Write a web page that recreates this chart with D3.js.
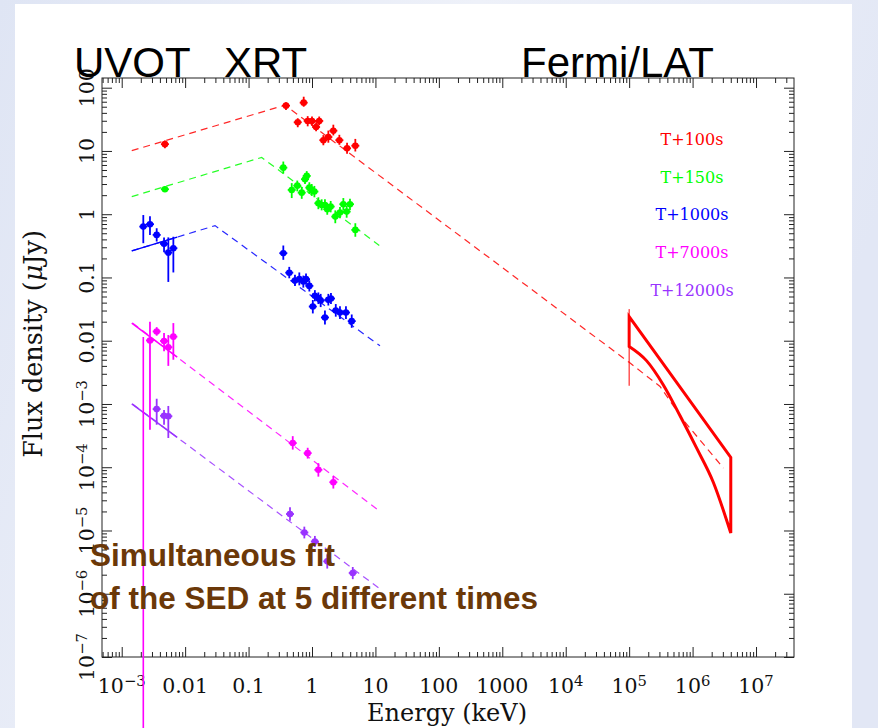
<!DOCTYPE html>
<html><head><meta charset="utf-8">
<script src="https://cdn.jsdelivr.net/npm/d3@7"></script>
<style>
html,body{margin:0;padding:0;background:#e3e8f5;overflow:hidden}
svg{display:block}
</style></head><body>
<svg id="c" width="878" height="728"></svg>
<script>
// ---------------- DATA ----------------
const xTickValues = [1e-3,1e-2,1e-1,1,10,100,1000,1e4,1e5,1e6,1e7];
const xTickLabels = ["10^−3","0.01","0.1","1","10","100","1000","10^4","10^5","10^6","10^7"];
const yTickValues = [1e-7,1e-6,1e-5,1e-4,1e-3,1e-2,1e-1,1,10,100];
const yTickLabels = ["10^−7","10^−6","10^−5","10^−4","10^−3","0.01","0.1","1","10","100"];
const seriesNames = ["T+100s","T+150s","T+1000s","T+7000s","T+12000s"];

// points: [E keV, F uJy, F low, F high]
const pointsT100 = [
  [4.8e-3,12.8,11.0,14.6],
  [0.389,52,44.5,58.8],[0.74,58,50,72],[0.596,28.4,23.7,32.9],[0.855,29.8,24.5,35.5],
  [1.0,29.8,25,35],[1.16,23.9,20.5,28.5],[1.30,29.8,25.5,35],[1.51,14.8,12.3,17.8],
  [1.81,16.6,13.5,21],[2.17,20.9,17.6,26],[2.70,14.8,12.5,18],[3.57,11.0,9.0,13.5],[4.82,12.1,9.8,15.5]
];
const pointsT150 = [
  [4.8e-3,2.48,2.25,2.75],
  [0.353,5.44,4.4,6.8],[0.776,3.57,3.0,4.3],[0.826,4.03,3.4,4.8],[0.479,2.42,1.8,3.1],
  [0.586,2.83,2.3,3.4],[0.689,2.19,1.75,2.7],[0.908,2.63,2.1,3.2],[0.99,2.42,1.95,3.0],
  [1.09,2.28,1.85,2.8],[1.26,1.49,1.2,1.85],[1.42,1.40,1.15,1.72],[1.60,1.40,1.15,1.72],
  [1.74,1.20,0.98,1.48],[1.97,1.32,1.07,1.62],[2.33,0.917,0.72,1.15],[2.76,1.06,0.86,1.3],
  [3.12,1.44,1.15,1.8],[3.52,1.10,0.88,1.36],[3.97,1.44,1.17,1.75],[4.82,0.565,0.44,0.72]
];
const pointsT1000 = [
  [2.19e-3,0.637,0.348,0.97],[2.79e-3,0.695,0.47,0.93],[3.56e-3,0.471,0.37,0.60],
  [4.65e-3,0.34,0.25,0.43],[5.43e-3,0.247,0.085,0.43],[6.52e-3,0.29,0.12,0.44],
  [0.353,0.242,0.19,0.32],[0.438,0.119,0.097,0.147],[0.539,0.0893,0.073,0.11],
  [0.631,0.094,0.075,0.12],[0.730,0.0861,0.069,0.107],[0.805,0.094,0.077,0.115],
  [0.908,0.0736,0.06,0.09],[1.11,0.0512,0.042,0.063],[1.26,0.0471,0.038,0.058],
  [1.37,0.0432,0.034,0.055],[1.03,0.0347,0.027,0.044],[1.81,0.0443,0.036,0.055],
  [1.99,0.0465,0.038,0.057],[1.60,0.0233,0.018,0.03],[2.37,0.030,0.024,0.038],
  [2.76,0.0279,0.022,0.035],[3.43,0.0279,0.022,0.035],[4.23,0.0204,0.016,0.026]
];
const pointsT7000 = [
  [2.79e-3,0.0101,3.9e-4,0.020],[3.56e-3,0.014,0.012,0.0164],[4.65e-3,9.9e-3,6.8e-3,0.0133],
  [5.43e-3,7.9e-3,4.0e-3,0.0123],[6.52e-3,0.0116,5.0e-3,0.019],
  [0.497,2.41e-4,1.9e-4,3.1e-4],[0.855,1.67e-4,1.37e-4,2.03e-4],
  [1.26,9.1e-5,7.1e-5,1.16e-4],[2.17,5.8e-5,4.6e-5,7.3e-5]
];
// bar with no detected flux (from top value down past the axis)
const barT7000Open = [2.19e-3,1e-9,0.0115];
const pointsT12000 = [
  [3.56e-3,8.3e-4,4.7e-4,1.21e-3],[4.65e-3,6.5e-4,4.7e-4,8.0e-4],[5.43e-3,6.4e-4,2.9e-4,9.3e-4],
  [0.45,1.82e-5,1.42e-5,2.33e-5],[0.757,9.3e-6,7.5e-6,1.15e-5],[1.11,6.7e-6,5.5e-6,8.2e-6],
  [1.74,3.25e-6,2.5e-6,4.2e-6],[4.39,2.13e-6,1.7e-6,2.65e-6]
];

// model (broken power law) vertices [E, F]
const modelT100 = [[1.44e-3,10.1],[0.376,53],[1e5,4.55e-3],[3.07e5,1.89e-3],[7.1e5,5.6e-4],[3.06e6,9.7e-5]];
const modelT150 = [[1.44e-3,1.9],[0.161,7.9],[11.5,0.32]];
const modelT1000 = [[1.44e-3,0.263],[0.0296,0.66],[11.8,0.0083]];
const modelT7000 = [[1.48e-3,0.019],[12.1,1.96e-5]];
const modelT12000 = [[1.48e-3,1e-3],[11.8,1.19e-6]];
const uvotBand = [1.44e-3,7.5e-3];

// Fermi/LAT butterfly
const latUpper = [[1e5,0.0241],[4e6,1.43e-4]];
const latLower = [[1e5,8.1e-3],[1.89e5,4.8e-3],[3.46e5,2.0e-3],[6.34e5,6.5e-4],[1.16e6,2.0e-4],[2.12e6,5.8e-5],[4e6,9.1e-6]];
const latBar = [1e5,1.94e-3,0.0316];

// ---------------- STYLE / LAYOUT ----------------
const colors = ["#ff0000","#00ff00","#0000ff","#ff00ff","#9933ff"];
const solidInUvot = [false,false,true,true,true];
const serif = "'DejaVu Serif', 'Liberation Serif', serif";
const sans = "'Liberation Sans', Arial, sans-serif";
const L = 102, R = 794, T = 78, B = 657;

const svg = d3.select("#c");
const defs = svg.append("defs");
const grad = defs.append("linearGradient").attr("id","bg").attr("x1","0").attr("y1","0").attr("x2","1").attr("y2","0.3");
grad.append("stop").attr("offset","0").attr("stop-color","#dfe5f4");
grad.append("stop").attr("offset","0.5").attr("stop-color","#eef1f9");
grad.append("stop").attr("offset","1").attr("stop-color","#e2e7f5");
svg.append("rect").attr("width",878).attr("height",728).attr("fill","url(#bg)");
svg.append("rect").attr("x",15).attr("y",4).attr("width",837).attr("height",724).attr("fill","#ffffff");

const x = d3.scaleLog().domain([4.89e-4,3.97e7]).range([L,R]);
const y = d3.scaleLog().domain([1e-7,142.3]).range([B,T]);

function minors(dom){
  const out=[];
  for(let e=Math.floor(Math.log10(dom[0])); e<=Math.ceil(Math.log10(dom[1])); e++){
    for(let k=2;k<=9;k++){const v=k*Math.pow(10,e); if(v>=dom[0]&&v<=dom[1]) out.push(v);}
  }
  return out;
}
const xMin = minors(x.domain()), yMin = minors(y.domain());

function tickAxis(axisFn, scale, vals, size, tr){
  const g = svg.append("g").attr("transform",tr)
    .call(axisFn(scale).tickValues(vals).tickSize(size).tickFormat(""));
  g.select(".domain").remove();
  g.selectAll("line").attr("stroke","#222");
}
tickAxis(d3.axisBottom, x, xTickValues, -10, `translate(0,${B})`);
tickAxis(d3.axisBottom, x, xMin, -5, `translate(0,${B})`);
tickAxis(d3.axisTop, x, xTickValues, -10, `translate(0,${T})`);
tickAxis(d3.axisTop, x, xMin, -5, `translate(0,${T})`);
tickAxis(d3.axisLeft, y, yTickValues, -10, `translate(${L},0)`);
tickAxis(d3.axisLeft, y, yMin, -5, `translate(${L},0)`);
tickAxis(d3.axisRight, y, yTickValues, -10, `translate(${R},0)`);
tickAxis(d3.axisRight, y, yMin, -5, `translate(${R},0)`);
svg.append("rect").attr("x",L).attr("y",T).attr("width",R-L).attr("height",B-T)
  .attr("fill","none").attr("stroke","#222").attr("stroke-width",1);

function supText(sel, str){
  const p = str.split("^");
  sel.append("tspan").text(p[0]);
  if(p.length>1) sel.append("tspan").attr("dy","-0.5em").attr("font-size","0.72em").text(p[1]);
}
xTickValues.forEach((v,i)=>{
  const t = svg.append("text").attr("x",x(v)).attr("y",693).attr("text-anchor","middle")
    .attr("font-family",serif).attr("font-size",20.5).attr("fill","#111");
  supText(t, xTickLabels[i]);
});
yTickValues.forEach((v,i)=>{
  const t = svg.append("text").attr("transform",`translate(94,${y(v)}) rotate(-90)`)
    .attr("text-anchor","middle").attr("font-family",serif).attr("font-size",20.5).attr("fill","#111");
  supText(t, yTickLabels[i]);
});
svg.append("text").attr("x",447).attr("y",721).attr("text-anchor","middle")
  .attr("font-family",serif).attr("font-size",24).attr("fill","#111").text("Energy (keV)");
const yt = svg.append("text").attr("transform","translate(42,344) rotate(-90)").attr("text-anchor","middle")
  .attr("font-family",serif).attr("font-size",25.5).attr("fill","#111");
yt.append("tspan").text("Flux density (");
yt.append("tspan").attr("font-style","italic").text("μ");
yt.append("tspan").text("Jy)");

// ---------------- MARKS ----------------
const line = d3.line().x(d=>x(d[0])).y(d=>y(d[1]));
const curve = d3.line().x(d=>x(d[0])).y(d=>y(d[1])).curve(d3.curveMonotoneX);
const models = [modelT100,modelT150,modelT1000,modelT7000,modelT12000];
const points = [pointsT100,pointsT150,pointsT1000,pointsT7000,pointsT12000];
const plot = svg.append("g");

function interpLog(model, E){
  const le = Math.log10(E);
  for(let i=0;i<model.length-1;i++){
    const a=model[i], b=model[i+1];
    const la=Math.log10(a[0]), lb=Math.log10(b[0]);
    if(le>=la && le<=lb){
      const t=(le-la)/(lb-la);
      return Math.pow(10, Math.log10(a[1])+t*(Math.log10(b[1])-Math.log10(a[1])));
    }
  }
  return model[0][1];
}

models.forEach((m,i)=>{
  plot.append("path").attr("d",line(m)).attr("fill","none").attr("stroke",colors[i])
    .attr("stroke-width",1.2).attr("stroke-dasharray","7,5").attr("opacity",0.85);
  if(solidInUvot[i]){
    const seg=[[uvotBand[0],interpLog(m,uvotBand[0])],[uvotBand[1],interpLog(m,uvotBand[1])]];
    plot.append("path").attr("d",line(seg)).attr("fill","none").attr("stroke",colors[i]).attr("stroke-width",1.5);
  }
});

// Fermi butterfly: upper edge, right edge, curved lower edge, left edge
const lowerRev = latLower.slice().reverse();
const bflyPath = line(latUpper) + "L" + curve(lowerRev).slice(1) + "Z";
plot.append("path").attr("d",bflyPath).attr("fill","none").attr("stroke","#ff0000")
  .attr("stroke-width",3).attr("stroke-linejoin","miter");
plot.append("line").attr("x1",x(latBar[0])).attr("x2",x(latBar[0])).attr("y1",y(latBar[1])).attr("y2",y(latBar[2]))
  .attr("stroke","#ff0000").attr("stroke-width",1);

plot.append("line").attr("x1",x(barT7000Open[0])).attr("x2",x(barT7000Open[0]))
  .attr("y1",y(barT7000Open[1])).attr("y2",y(barT7000Open[2])).attr("stroke",colors[3]).attr("stroke-width",1.6);

points.forEach((pts,i)=>{
  const g = plot.append("g");
  g.selectAll("line.eb").data(pts).join("line").attr("class","eb")
    .attr("x1",d=>x(d[0])).attr("x2",d=>x(d[0])).attr("y1",d=>y(d[2])).attr("y2",d=>y(d[3]))
    .attr("stroke",colors[i]).attr("stroke-width",1.8);
  g.selectAll("line.hb").data(pts).join("line").attr("class","hb")
    .attr("x1",d=>x(d[0])-4).attr("x2",d=>x(d[0])+4).attr("y1",d=>y(d[1])).attr("y2",d=>y(d[1]))
    .attr("stroke",colors[i]).attr("stroke-width",1.8);
  g.selectAll("circle").data(pts).join("circle")
    .attr("cx",d=>x(d[0])).attr("cy",d=>y(d[1])).attr("r",3.3).attr("fill",colors[i]);
});

const legY = [139,177,214,252,290];
seriesNames.forEach((n,i)=>{
  svg.append("text").attr("x",692).attr("y",legY[i]+6).attr("text-anchor","middle")
    .attr("font-family",serif).attr("font-size",16).attr("fill",colors[i]).text(n);
});

svg.append("text").attr("x",74).attr("y",77).attr("font-family",sans).attr("font-size",42).attr("fill","#000").text("UVOT");
svg.append("text").attr("x",224).attr("y",77).attr("font-family",sans).attr("font-size",42).attr("fill","#000").text("XRT");
svg.append("text").attr("x",521).attr("y",77).attr("font-family",sans).attr("font-size",42).attr("fill","#000").text("Fermi/LAT");

svg.append("text").attr("x",90).attr("y",566).attr("font-family",sans).attr("font-weight","bold")
  .attr("font-size",31.5).attr("fill","#6b3808").text("Simultaneous fit");
svg.append("text").attr("x",90).attr("y",609).attr("font-family",sans).attr("font-weight","bold")
  .attr("font-size",31.5).attr("fill","#6b3808").text("of the SED at 5 different times");
</script>
</body></html>
